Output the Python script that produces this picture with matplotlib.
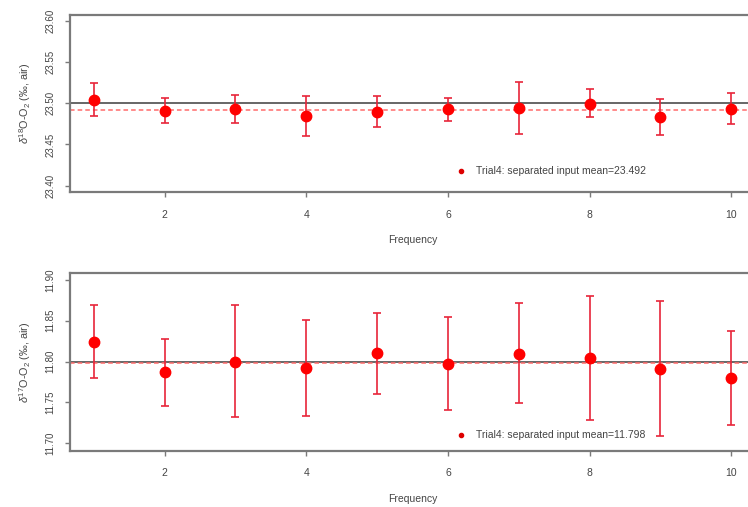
import matplotlib
matplotlib.use("Agg")
import matplotlib.pyplot as plt
import numpy as np

plt.rcParams['font.family'] = ['Liberation Sans', 'DejaVu Sans']
plt.rcParams['mathtext.fontset'] = 'custom'
plt.rcParams['mathtext.rm'] = 'Liberation Sans'
plt.rcParams['mathtext.it'] = 'Liberation Sans:italic'

freq = [1, 2, 3, 4, 5, 6, 7, 8, 9, 10]

d18_mean = [23.504, 23.491, 23.493, 23.484, 23.489, 23.493, 23.494, 23.499, 23.483, 23.493]
d18_hi = [23.524, 23.506, 23.510, 23.509, 23.509, 23.506, 23.526, 23.517, 23.505, 23.512]
d18_lo = [23.484, 23.476, 23.476, 23.460, 23.471, 23.478, 23.463, 23.483, 23.461, 23.475]
d18_ref = 23.500
d18_input = 23.492

d17_mean = [11.8245, 11.787, 11.800, 11.792, 11.810, 11.797, 11.809, 11.8045, 11.791, 11.780]
d17_hi = [11.869, 11.828, 11.869, 11.851, 11.860, 11.854, 11.872, 11.880, 11.874, 11.838]
d17_lo = [11.780, 11.746, 11.732, 11.733, 11.760, 11.741, 11.749, 11.729, 11.709, 11.722]
d17_ref = 11.800
d17_input = 11.798

d18_ticks = [23.40, 23.45, 23.50, 23.55, 23.60]
d17_ticks = [11.70, 11.75, 11.80, 11.85, 11.90]
x_ticks = [2, 4, 6, 8, 10]

W, H = 748, 507
fig = plt.figure(figsize=(W / 100, H / 100), dpi=100)

spine_col = '#7a7a7a'
text_col = '#444444'
err_col = '#e8253a'
pt_col = '#ff0000'


def panel(rect, mean, hi, lo, ref, inp, ylim, yticks, ylabel, legend_y):
    ax = fig.add_axes(rect)
    mean = np.array(mean)
    yerr = [mean - np.array(lo), np.array(hi) - mean]
    ax.axhline(ref, color='#666666', lw=1.4, zorder=1)
    ax.axhline(inp, color='#ff6b6b', lw=1.1, ls=(0, (3, 2)), zorder=1)
    ax.errorbar(freq, mean, yerr=yerr, fmt='none', ecolor=err_col,
                elinewidth=1.2, capsize=2.6, capthick=1.2, zorder=2)
    ax.plot(freq, mean, 'o', color=pt_col, ms=7.5, mec=pt_col, zorder=3)
    ax.set_xlim(0.666, 10.334)
    ax.set_ylim(*ylim)
    ax.set_xticks(x_ticks)
    ax.set_xticklabels([str(v) for v in x_ticks], fontsize=7.5, color=text_col)
    ax.set_yticks(yticks)
    ax.set_yticklabels(['%.2f' % v for v in yticks], fontsize=7,
                       color=text_col, rotation=90, va='center')
    ax.tick_params(axis='both', direction='out', length=3.5, width=1.0,
                   color=spine_col)
    ax.tick_params(axis='x', pad=9)
    ax.tick_params(axis='y', pad=7)
    for s in ax.spines.values():
        s.set_color(spine_col)
        s.set_linewidth(1.6)
    ax.set_xlabel('Frequency', fontsize=7.5, color=text_col, labelpad=11)
    ax.set_ylabel(ylabel, fontsize=7.8, color=text_col, labelpad=9)
    ax.plot([6.18], [legend_y], 'o', color='#dd0000', ms=3, zorder=4)
    ax.text(6.4, legend_y, 'Trial4: separated input mean=%.3f' % inp,
            fontsize=7.5, color=text_col, va='center', ha='left', zorder=4)
    return ax


panel([70 / W, 1 - 192.3 / H, 685 / W, (192.3 - 15) / H],
      d18_mean, d18_hi, d18_lo, d18_ref, d18_input,
      (23.392, 23.607), d18_ticks,
      r'$\delta^{18}$O-O$_2$ (‰, air)', 23.418)

panel([70 / W, 1 - 451 / H, 685 / W, (451 - 273.3) / H],
      d17_mean, d17_hi, d17_lo, d17_ref, d17_input,
      (11.6906, 11.908), d17_ticks,
      r'$\delta^{17}$O-O$_2$ (‰, air)', 11.7105)

fig.savefig('out.png', dpi=100)
